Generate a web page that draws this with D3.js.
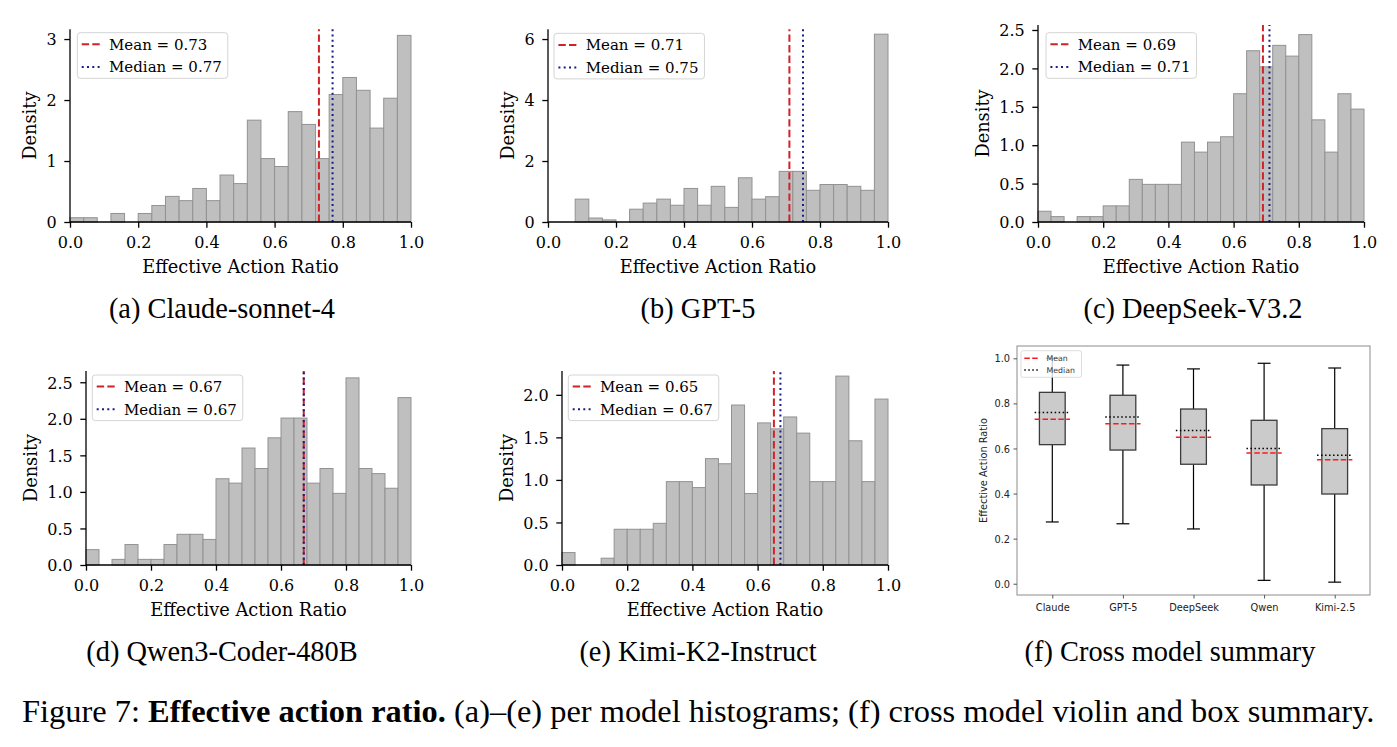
<!DOCTYPE html>
<html>
<head>
<meta charset="utf-8">
<script src="https://cdn.jsdelivr.net/npm/d3@7"></script>
<style>
  html, body { margin: 0; padding: 0; background: #ffffff; }
  svg { display: block; }
</style>
</head>
<body>
<svg id="fig" width="1397" height="747"></svg>
<script>
// ---------------- DATA ----------------
const binEdges = d3.range(0, 1.0001, 0.04);          // 25 bins of width 0.04
const xTickValues = [0.0, 0.2, 0.4, 0.6, 0.8, 1.0];

const claudeDensity   = [0.07,0.07,0,0.14,0,0.14,0.27,0.42,0.35,0.55,0.35,0.77,0.63,1.67,1.04,0.91,1.81,1.60,1.04,2.09,2.37,2.16,1.54,2.03,3.06];
const gptDensity      = [0,0,0.75,0.13,0.07,0,0.42,0.62,0.75,0.55,1.10,0.55,1.17,0.48,1.45,0.75,0.83,1.66,1.66,1.04,1.23,1.23,1.17,1.04,6.16];
const deepseekDensity = [0.14,0.07,0,0.07,0.07,0.21,0.21,0.555,0.49,0.49,0.49,1.04,0.91,1.04,1.11,1.67,2.23,2.02,2.30,2.16,2.44,1.33,0.91,1.67,1.47];
const qwenDensity     = [0.21,0,0.077,0.28,0.077,0.077,0.28,0.42,0.42,0.35,1.18,1.12,1.60,1.32,1.74,2.01,2.01,1.12,1.32,0.98,2.56,1.32,1.25,1.05,2.29];
const kimiDensity     = [0.146,0,0,0.08,0.42,0.42,0.42,0.49,0.98,0.98,0.91,1.25,1.19,1.88,0.84,1.67,1.60,1.74,1.55,0.98,0.98,2.22,1.46,0.98,1.95];

const histMeans   = [0.73, 0.71, 0.69, 0.67, 0.65];
const histMedians = [0.77, 0.75, 0.71, 0.67, 0.67];

const yTicksA = [0, 1, 2, 3];
const yTicksB = [0, 2, 4, 6];
const yTicksC = [0.0, 0.5, 1.0, 1.5, 2.0, 2.5];
const yTicksD = [0.0, 0.5, 1.0, 1.5, 2.0, 2.5];
const yTicksE = [0.0, 0.5, 1.0, 1.5, 2.0];

const subCaptions = ["(a) Claude-sonnet-4", "(b) GPT-5", "(c) DeepSeek-V3.2",
                     "(d) Qwen3-Coder-480B", "(e) Kimi-K2-Instruct", "(f) Cross model summary"];

// box summary
const boxCategories = ["Claude", "GPT-5", "DeepSeek", "Qwen", "Kimi-2.5"];
const boxQ1        = [0.617, 0.593, 0.530, 0.438, 0.398];
const boxQ3        = [0.849, 0.836, 0.775, 0.725, 0.688];
const whiskerLow   = [0.274, 0.266, 0.243, 0.015, 0.007];
const whiskerHigh  = [1.000, 0.970, 0.953, 0.978, 0.957];
const boxMeans     = [0.73, 0.71, 0.65, 0.58, 0.55];
const boxMedians   = [0.76, 0.74, 0.68, 0.60, 0.57];
const boxYTicks    = [0.0, 0.2, 0.4, 0.6, 0.8, 1.0];

// ---------------- LAYOUT ----------------
const svg = d3.select("#fig");
svg.append("rect").attr("width", 1397).attr("height", 747).attr("fill", "#ffffff");

const SERIF = "'DejaVu Serif', serif";
const SANS = "'DejaVu Sans', sans-serif";
const CAPFONT = "'Liberation Serif', 'Times New Roman', serif";
const MEAN_C = "#d0222a", MEDIAN_C = "#1c1c86";
const TICK_FS = 16, LABEL_FS = 17.8, LEG_FS = 15;

const panels = [
  { data: claudeDensity,   ticks: yTicksA, fmt: d3.format("d"),   x0: 70,   x1: 411, y0: 222, yTop: 29.3, yMax: 3.16,  leg: [77.3, 32.7] },
  { data: gptDensity,      ticks: yTicksB, fmt: d3.format("d"),   x0: 548,  x1: 888, y0: 222, yTop: 29.3, yMax: 6.32,  leg: [554, 33.3] },
  { data: deepseekDensity, ticks: yTicksC, fmt: d3.format(".1f"), x0: 1038, x1: 1364, y0: 222, yTop: 25,  yMax: 2.565, leg: [1046, 32.7] },
  { data: qwenDensity,     ticks: yTicksD, fmt: d3.format(".1f"), x0: 86,   x1: 411, y0: 565, yTop: 371,  yMax: 2.654, leg: [92.3, 375] },
  { data: kimiDensity,     ticks: yTicksE, fmt: d3.format(".1f"), x0: 562,  x1: 888, y0: 565, yTop: 371,  yMax: 2.28,  leg: [568.3, 375] }
];

panels.forEach((p, i) => {
  const x = d3.scaleLinear().domain([0, 1]).range([p.x0, p.x1]);
  const y = d3.scaleLinear().domain([0, p.yMax]).range([p.y0, p.yTop]);
  const g = svg.append("g");

  // bars
  g.selectAll("rect.bar").data(p.data).join("rect")
    .attr("class", "bar")
    .attr("x", (d, k) => x(binEdges[k]))
    .attr("width", (d, k) => x(binEdges[k + 1]) - x(binEdges[k]))
    .attr("y", d => y(d))
    .attr("height", d => y(0) - y(d))
    .attr("fill", "#bfbfbf")
    .attr("stroke", d => d > 0 ? "#929292" : "none")
    .attr("stroke-width", 1);

  // mean / median lines
  g.append("line").attr("x1", x(histMeans[i])).attr("x2", x(histMeans[i]))
    .attr("y1", y(0)).attr("y2", y(p.yMax))
    .attr("stroke", MEAN_C).attr("stroke-width", 2).attr("stroke-dasharray", "7.4,3.2");
  g.append("line").attr("x1", x(histMedians[i])).attr("x2", x(histMedians[i]))
    .attr("y1", y(0)).attr("y2", y(p.yMax))
    .attr("stroke", MEDIAN_C).attr("stroke-width", 2).attr("stroke-dasharray", "2,3.3");

  // axes
  const xAxis = g.append("g").attr("transform", `translate(0,${p.y0})`)
    .call(d3.axisBottom(x).tickValues(xTickValues).tickFormat(d3.format(".1f")).tickSize(5.7).tickPadding(7));
  const yAxis = g.append("g").attr("transform", `translate(${p.x0},0)`)
    .call(d3.axisLeft(y).tickValues(p.ticks).tickFormat(p.fmt).tickSize(5.7).tickPadding(7.6));
  [xAxis, yAxis].forEach(a => {
    a.select(".domain").attr("stroke", "#000").attr("stroke-width", 1.3);
    a.selectAll(".tick line").attr("stroke", "#000").attr("stroke-width", 1.3);
    a.selectAll(".tick text").attr("font-family", SERIF).attr("font-size", TICK_FS).attr("fill", "#000");
  });
  xAxis.selectAll(".tick text").attr("dy", null).attr("y", 26).attr("dominant-baseline", "auto");
  yAxis.selectAll(".tick text").attr("dy", "0.36em");
  xAxis.select(".domain").attr("d", `M${p.x0},0H${p.x1}`);
  yAxis.select(".domain").attr("d", `M0,${p.y0}V${p.yTop}`);

  // labels
  g.append("text").attr("x", (p.x0 + p.x1) / 2).attr("y", p.y0 + 50.5)
    .attr("text-anchor", "middle").attr("font-family", SERIF).attr("font-size", LABEL_FS)
    .text("Effective Action Ratio");
  let minX = Infinity;
  yAxis.selectAll(".tick text").each(function () {
    const b = this.getBBox();
    minX = Math.min(minX, p.x0 + b.x);
  });
  const dx = minX - 10.5;
  g.append("text").attr("transform", `translate(${dx},${(p.y0 + p.yTop) / 2}) rotate(-90)`)
    .attr("text-anchor", "middle").attr("font-family", SERIF).attr("font-size", LABEL_FS)
    .text("Density");

  // legend
  const [lx, ly] = p.leg;
  const lg = g.append("g");
  const box = lg.append("rect").attr("x", lx).attr("y", ly).attr("height", 45.6).attr("rx", 3)
    .attr("fill", "#ffffff").attr("fill-opacity", 0.8).attr("stroke", "#d4d4d4").attr("stroke-width", 1);
  const labels = [`Mean = ${histMeans[i].toFixed(2)}`, `Median = ${histMedians[i].toFixed(2)}`];
  let maxW = 0;
  labels.forEach((t, r) => {
    const cy = ly + 11.6 + r * 22.6;
    lg.append("line").attr("x1", lx + 4.4).attr("x2", lx + 25.4).attr("y1", cy).attr("y2", cy)
      .attr("stroke", r === 0 ? MEAN_C : MEDIAN_C).attr("stroke-width", 2)
      .attr("stroke-dasharray", r === 0 ? "7.4,3.2" : "2,3.3");
    const tx = lg.append("text").attr("x", lx + 31.7).attr("y", cy).attr("dy", "0.36em")
      .attr("font-family", SERIF).attr("font-size", LEG_FS).text(t);
    maxW = Math.max(maxW, tx.node().getComputedTextLength());
  });
  box.attr("width", 31.7 + maxW + 6);
});

// ---------------- BOX SUMMARY (f) ----------------
const fx0 = 1017, fx1 = 1370, fy0 = 346, fy1 = 595;
const xb = d3.scaleLinear().domain([0.5, 5.5]).range([fx0, fx1]);
const yb = d3.scaleLinear().domain([-0.05, 1.0546]).range([fy1, fy0]);
const gf = svg.append("g");
const bw = 0.365, capw = bw / 2, lw = 0.25;

boxCategories.forEach((c, k) => {
  const pos = k + 1;
  gf.append("line").attr("x1", xb(pos)).attr("x2", xb(pos)).attr("y1", yb(boxQ1[k])).attr("y2", yb(whiskerLow[k]))
    .attr("stroke", "#000").attr("stroke-width", 1.2);
  gf.append("line").attr("x1", xb(pos)).attr("x2", xb(pos)).attr("y1", yb(boxQ3[k])).attr("y2", yb(whiskerHigh[k]))
    .attr("stroke", "#000").attr("stroke-width", 1.2);
  gf.append("line").attr("x1", xb(pos - capw / 2)).attr("x2", xb(pos + capw / 2)).attr("y1", yb(whiskerLow[k])).attr("y2", yb(whiskerLow[k]))
    .attr("stroke", "#000").attr("stroke-width", 1.2);
  gf.append("line").attr("x1", xb(pos - capw / 2)).attr("x2", xb(pos + capw / 2)).attr("y1", yb(whiskerHigh[k])).attr("y2", yb(whiskerHigh[k]))
    .attr("stroke", "#000").attr("stroke-width", 1.2);
  gf.append("rect").attr("x", xb(pos - bw / 2)).attr("width", xb(pos + bw / 2) - xb(pos - bw / 2))
    .attr("y", yb(boxQ3[k])).attr("height", yb(boxQ1[k]) - yb(boxQ3[k]))
    .attr("fill", "#cbcbcb").attr("stroke", "#3c3c3c").attr("stroke-width", 1.3);
  gf.append("line").attr("x1", xb(pos - lw)).attr("x2", xb(pos + lw)).attr("y1", yb(boxMedians[k])).attr("y2", yb(boxMedians[k]))
    .attr("stroke", "#000").attr("stroke-width", 1.5).attr("stroke-dasharray", "1.5,2.5");
  gf.append("line").attr("x1", xb(pos - lw)).attr("x2", xb(pos + lw)).attr("y1", yb(boxMeans[k])).attr("y2", yb(boxMeans[k]))
    .attr("stroke", "#ff1a1a").attr("stroke-width", 1.5).attr("stroke-dasharray", "5.5,2.4");
});

gf.append("rect").attr("x", fx0).attr("y", fy0).attr("width", fx1 - fx0).attr("height", fy1 - fy0)
  .attr("fill", "none").attr("stroke", "#8c8c8c").attr("stroke-width", 1);

const fxAxis = gf.append("g").attr("transform", `translate(0,${fy1})`)
  .call(d3.axisBottom(xb).tickValues([1, 2, 3, 4, 5]).tickFormat((d, k) => boxCategories[k]).tickSize(3.5).tickPadding(4));
const fyAxis = gf.append("g").attr("transform", `translate(${fx0},0)`)
  .call(d3.axisLeft(yb).tickValues(boxYTicks).tickFormat(d3.format(".1f")).tickSize(3.5).tickPadding(3.5));
[fxAxis, fyAxis].forEach(a => {
  a.select(".domain").remove();
  a.selectAll(".tick line").attr("stroke", "#555").attr("stroke-width", 1);
  a.selectAll(".tick text").attr("font-family", SANS).attr("font-size", 9.8).attr("fill", "#222");
});
fyAxis.selectAll(".tick text").attr("dy", "0.36em");
fxAxis.selectAll(".tick text").attr("dy", null).attr("y", 16).attr("dominant-baseline", "auto");

gf.append("text").attr("transform", `translate(986.5,${(fy0 + fy1) / 2}) rotate(-90)`)
  .attr("text-anchor", "middle").attr("font-family", SANS).attr("font-size", 9.8).attr("fill", "#222")
  .text("Effective Action Ratio");

const flg = gf.append("g");
flg.append("rect").attr("x", 1021).attr("y", 350.7).attr("width", 60.5).attr("height", 26.6).attr("rx", 2)
  .attr("fill", "#fff").attr("fill-opacity", 0.8).attr("stroke", "#d4d4d4").attr("stroke-width", 0.8);
[["Mean", "#ff1a1a", "5.5,2.4", 358.3], ["Median", "#000", "1.5,2.5", 370]].forEach(([t, c, da, cy]) => {
  flg.append("line").attr("x1", 1024.3).attr("x2", 1040).attr("y1", cy).attr("y2", cy)
    .attr("stroke", c).attr("stroke-width", 1.5).attr("stroke-dasharray", da);
  flg.append("text").attr("x", 1046.5).attr("y", cy).attr("dy", "0.36em")
    .attr("font-family", SANS).attr("font-size", 7.8).attr("fill", "#333").text(t);
});

// ---------------- CAPTIONS ----------------
const capPos = [[222, 318], [698, 318], [1193, 318], [222, 661], [698, 661], [1170, 661]];
const probe = svg.append("text").attr("font-family", CAPFONT).attr("font-size", 24).text(subCaptions[5]);
const capSize = 24 * 291 / probe.node().getComputedTextLength();
probe.remove();
subCaptions.forEach((t, k) => {
  svg.append("text").attr("x", capPos[k][0]).attr("y", capPos[k][1]).attr("text-anchor", "middle")
    .attr("font-family", CAPFONT).attr("font-size", capSize).attr("fill", "#000").text(t);
});

const fig = svg.append("text").attr("x", 22).attr("y", 722).attr("font-family", CAPFONT).attr("font-size", 24).attr("fill", "#000");
fig.append("tspan").text("Figure 7: ");
fig.append("tspan").attr("font-weight", "bold").text("Effective action ratio.");
fig.append("tspan").text(" (a)\u2013(e) per model histograms; (f) cross model violin and box summary.");
const fw = fig.node().getComputedTextLength();
fig.attr("font-size", 24 * 1353 / fw);
</script>
</body>
</html>
